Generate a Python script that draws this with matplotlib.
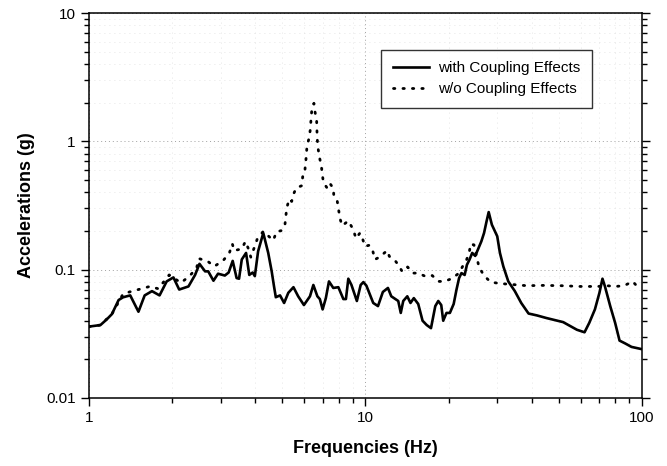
import numpy as np
import matplotlib
matplotlib.use("Agg")
import matplotlib.pyplot as plt
from matplotlib.ticker import FixedLocator, LogLocator, NullFormatter

# response with coupling (solid)
freq_with = [1.00, 1.10, 1.16, 1.21, 1.28, 1.33, 1.41, 1.51, 1.59, 1.69, 1.80, 1.91,
             2.02, 2.12, 2.29, 2.42, 2.51, 2.63, 2.70, 2.82, 2.93, 3.10, 3.20, 3.31,
             3.42, 3.49, 3.57, 3.70, 3.80, 3.91, 3.98, 4.09, 4.27, 4.45, 4.58, 4.67,
             4.74, 4.91, 5.08, 5.26, 5.49, 5.71, 5.99, 6.30, 6.48, 6.70, 6.84, 7.00,
             7.19, 7.38, 7.65, 7.98, 8.32, 8.50, 8.67, 8.90, 9.31, 9.61, 9.83, 10.08,
             10.67, 11.10, 11.56, 12.06, 12.40, 13.14, 13.42, 13.70, 14.17, 14.55,
             14.96, 15.52, 16.09, 16.66, 17.26, 17.89, 18.34, 18.80, 19.11, 19.64,
             20.20, 20.85, 21.35, 21.81, 22.24, 22.85, 23.28, 23.80, 24.33, 24.95,
             25.50, 26.25, 26.85, 27.42, 27.91, 28.66, 29.97, 30.65, 31.53, 32.86,
             34.70, 36.60, 38.90, 41.70, 45.10, 51.90, 58.20, 62.00, 64.50, 67.60,
             70.20, 72.00, 73.50, 76.80, 80.00, 83.00, 87.00, 91.70, 100.0]
acc_with = [0.036, 0.037, 0.041, 0.045, 0.058, 0.061, 0.063, 0.047, 0.063, 0.068, 0.063, 0.081,
            0.087, 0.070, 0.074, 0.091, 0.111, 0.097, 0.097, 0.082, 0.093, 0.090, 0.095, 0.117,
            0.086, 0.085, 0.120, 0.135, 0.091, 0.095, 0.089, 0.139, 0.193, 0.135, 0.097, 0.074,
            0.061, 0.063, 0.055, 0.066, 0.073, 0.062, 0.053, 0.062, 0.076, 0.062, 0.059, 0.049,
            0.060, 0.081, 0.072, 0.073, 0.059, 0.059, 0.085, 0.076, 0.057, 0.076, 0.080, 0.075,
            0.055, 0.052, 0.067, 0.072, 0.062, 0.057, 0.046, 0.057, 0.062, 0.055,
            0.060, 0.054, 0.040, 0.037, 0.035, 0.052, 0.057, 0.053, 0.040, 0.046,
            0.046, 0.054, 0.070, 0.086, 0.094, 0.091, 0.109, 0.120, 0.135, 0.128,
            0.143, 0.166, 0.193, 0.238, 0.281, 0.224, 0.182, 0.135, 0.106, 0.081,
            0.068, 0.055, 0.0455, 0.044, 0.042, 0.039, 0.034, 0.0325, 0.0385, 0.049,
            0.066, 0.085, 0.074, 0.052, 0.0385, 0.028, 0.0266, 0.025, 0.024]

# response without coupling (dotted)
freq_wo = [1.00, 1.10, 1.21, 1.33, 1.66, 1.78, 1.86, 1.95, 2.15, 2.31, 2.45, 2.50,
           2.69, 2.84, 3.06, 3.22, 3.30, 3.35, 3.57, 3.68, 3.77, 3.85, 4.06, 4.27,
           4.64, 4.77, 4.95, 5.11, 5.15, 5.19, 5.30, 5.41, 5.48, 5.62, 5.88, 5.93,
           6.03, 6.06, 6.11, 6.14, 6.25, 6.32, 6.35, 6.39, 6.51, 6.57, 6.66, 6.69,
           6.73, 6.81, 6.92, 6.98, 7.04, 7.28, 7.44, 7.65, 7.69, 7.91, 8.09, 8.24,
           8.67, 9.04, 9.24, 9.55, 9.74, 9.96, 10.32, 10.62, 10.82, 11.22, 11.99, 12.20,
           12.79, 13.14, 13.59, 14.21, 14.82, 15.52, 16.41, 17.44, 18.34, 19.27, 20.50,
           21.66, 21.97, 22.46, 23.23, 23.73, 24.02, 24.69, 25.74, 26.83, 28.36, 30.65,
           33.04, 35.52, 38.28, 44.00, 50.93, 59.69, 69.50, 74.54, 80.34, 86.30, 92.56,
           96.16, 100.0]
acc_wo = [0.036, 0.037, 0.045, 0.065, 0.074, 0.071, 0.080, 0.091, 0.079, 0.089, 0.103, 0.122,
          0.116, 0.106, 0.118, 0.135, 0.159, 0.141, 0.145, 0.166, 0.146, 0.125, 0.173, 0.199,
          0.169, 0.198, 0.201, 0.220, 0.257, 0.302, 0.355, 0.340, 0.384, 0.433, 0.451, 0.530,
          0.559, 0.653, 0.762, 0.902, 1.06, 1.24, 1.45, 1.71, 1.98, 1.70, 1.45, 1.06,
          0.90, 0.76, 0.65, 0.56, 0.48, 0.43, 0.47, 0.43, 0.37, 0.34, 0.25, 0.22,
          0.24, 0.205, 0.175, 0.193, 0.177, 0.152, 0.155, 0.141, 0.120, 0.125, 0.141, 0.127,
          0.118, 0.109, 0.0965, 0.105, 0.094, 0.094, 0.089, 0.090, 0.081, 0.081, 0.085,
          0.093, 0.097, 0.106, 0.120, 0.136, 0.159, 0.156, 0.105, 0.090, 0.080, 0.078,
          0.077, 0.076, 0.075, 0.0754, 0.075, 0.074, 0.074, 0.075, 0.074, 0.075, 0.081,
          0.074, 0.075]

x_ticks = [1, 10, 100]
x_ticklabels = ["1", "10", "100"]
y_ticks = [0.01, 0.1, 1, 10]
y_ticklabels = ["0.01", "0.1", "1", "10"]

plt.rcParams["font.family"] = ["Liberation Sans", "DejaVu Sans"]

fig = plt.figure(figsize=(6.67, 4.66), dpi=100)
ax = fig.add_axes([0.1334, 0.146, 0.829, 0.826])

ax.plot(freq_wo, acc_wo, color="black", lw=2.0, linestyle=(0, (0.5, 2.9)),
        dash_capstyle="round", label="w/o Coupling Effects", zorder=3)
ax.plot(freq_with, acc_with, color="black", lw=1.9, solid_joinstyle="round",
        label="with Coupling Effects", zorder=4)

ax.set_xscale("log")
ax.set_yscale("log")
ax.set_xlim(1, 100)
ax.set_ylim(0.01, 10)

ax.xaxis.set_major_locator(FixedLocator(x_ticks))
ax.set_xticklabels(x_ticklabels)
ax.yaxis.set_major_locator(FixedLocator(y_ticks))
ax.set_yticklabels(y_ticklabels)
ax.xaxis.set_minor_locator(LogLocator(base=10, subs=np.arange(2, 10)))
ax.yaxis.set_minor_locator(LogLocator(base=10, subs=np.arange(2, 10)))
ax.xaxis.set_minor_formatter(NullFormatter())
ax.yaxis.set_minor_formatter(NullFormatter())

ax.tick_params(which="both", direction="out", top=False, right=True,
               labelsize=11, width=1.0, color="black")
ax.tick_params(which="major", length=6)
ax.tick_params(which="minor", length=3.5)
for s in ax.spines.values():
    s.set_linewidth(1.1)

ax.grid(True, which="major", linestyle=(0, (1, 3)), color="#a0a0a0", lw=0.7)
ax.grid(True, which="minor", linestyle=(0, (1, 5)), color="#dcdcdc", lw=0.6)

ax.set_xlabel("Frequencies (Hz)", fontsize=13, fontweight="bold", labelpad=11)
ax.set_ylabel("Accelerations (g)", fontsize=13, fontweight="bold", labelpad=8)

handles, labels = ax.get_legend_handles_labels()
leg = ax.legend(handles[::-1], labels[::-1], loc="upper right",
                bbox_to_anchor=(0.910, 0.904), borderaxespad=0, fontsize=11,
                frameon=True, fancybox=False, edgecolor="black", borderpad=0.75,
                labelspacing=0.45, handlelength=2.4, handletextpad=0.6)
leg.get_frame().set_linewidth(1.0)

fig.savefig("out.png", dpi=100)
